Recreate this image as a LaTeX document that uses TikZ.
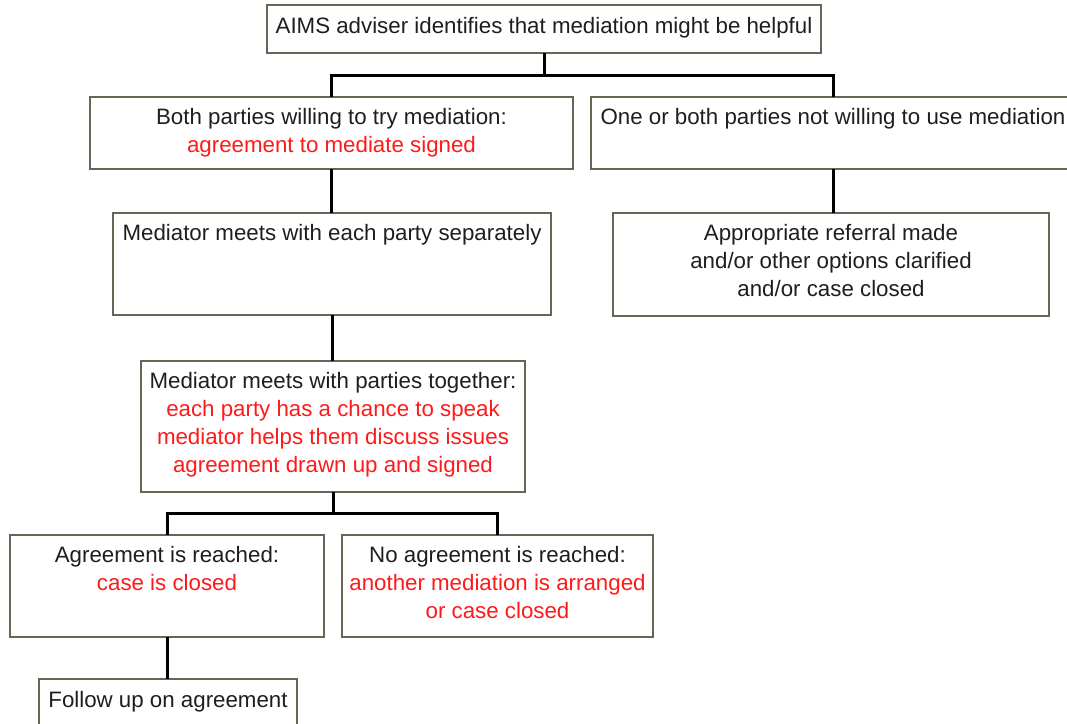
\documentclass[tikz,border=0pt]{standalone}
\usepackage{fontspec}
\setmainfont{Liberation Sans}

\definecolor{boxgray}{RGB}{105,100,85}
\definecolor{notered}{RGB}{255,25,25}
\definecolor{inkgray}{RGB}{30,30,30}

\begin{document}
\begin{tikzpicture}[x=1pt, y=-1pt,
    every node/.style={font=\fontsize{22.3}{28}\selectfont},
    stepbox/.style={rectangle, draw=boxgray, line width=1.8pt, anchor=north west, inner sep=0pt, outer sep=0pt},
    steptext/.style={anchor=north, align=center, inner sep=0pt, text=inkgray},
    link/.style={draw=black, line width=3pt}]
    \useasboundingbox (0,0) rectangle (1067,723);

    % Top: adviser
    \node[stepbox, minimum width=554, minimum height=48] (A) at (267,5) {};
    \node[steptext] (At) at ([yshift=-12pt]A.north) {AIMS adviser identifies that mediation might be helpful};

    % Second row: willing / not willing
    \node[stepbox, minimum width=483, minimum height=72] (B) at (90,97) {};
    \node[steptext] (Bt) at ([yshift=-11pt]B.north) {Both parties willing to try mediation:\\\textcolor{notered}{agreement to mediate signed}};
    \node[stepbox, minimum width=484, minimum height=72] (C) at (591,97) {};
    \node[steptext] (Ct) at ([yshift=-11pt]C.north) {One or both parties not willing to use mediation};

    % Third row
    \node[stepbox, minimum width=438, minimum height=102] (D) at (113,213) {};
    \node[steptext] (Dt) at ([yshift=-11pt]D.north) {Mediator meets with each party separately};
    \node[stepbox, minimum width=436, minimum height=103] (E) at (613,213) {};
    \node[steptext] (Et) at ([yshift=-11pt]E.north) {Appropriate referral made\\and/or other options clarified\\and/or case closed};

    % Joint meeting
    \node[stepbox, minimum width=384, minimum height=131] (F) at (141,361) {};
    \node[steptext] (Ft) at ([yshift=-11pt]F.north) {Mediator meets with parties together:\\\textcolor{notered}{each party has a chance to speak}\\\textcolor{notered}{mediator helps them discuss issues}\\\textcolor{notered}{agreement drawn up and signed}};

    % Outcomes
    \node[stepbox, minimum width=314, minimum height=102] (G) at (10,535) {};
    \node[steptext] (Gt) at ([yshift=-11pt]G.north) {Agreement is reached:\\\textcolor{notered}{case is closed}};
    \node[stepbox, minimum width=311, minimum height=102] (H) at (342,535) {};
    \node[steptext] (Ht) at ([yshift=-11pt]H.north) {No agreement is reached:\\\textcolor{notered}{another mediation is arranged}\\\textcolor{notered}{or case closed}};

    % Follow up
    \node[stepbox, minimum width=258, minimum height=80] (I) at (39,679) {};
    \node[steptext] (It) at ([yshift=-12pt]I.north) {Follow up on agreement};

    % Connectors
    \draw[link] (A.south) -- ++(0,22) -| (B.north);
    \draw[link] (A.south) -- ++(0,22) -| (C.north);
    \draw[link] (B.south) -- (B.south |- D.north);
    \draw[link] (C.south) -- (C.south |- E.north);
    \draw[link] (D.south) -- (D.south |- F.north);
    \draw[link] (F.south) -- ++(0,21) -| (G.north);
    \draw[link] (F.south) -- ++(0,21) -| (H.north);
    \draw[link] (G.south) -- (G.south |- I.north);
\end{tikzpicture}
\end{document}
